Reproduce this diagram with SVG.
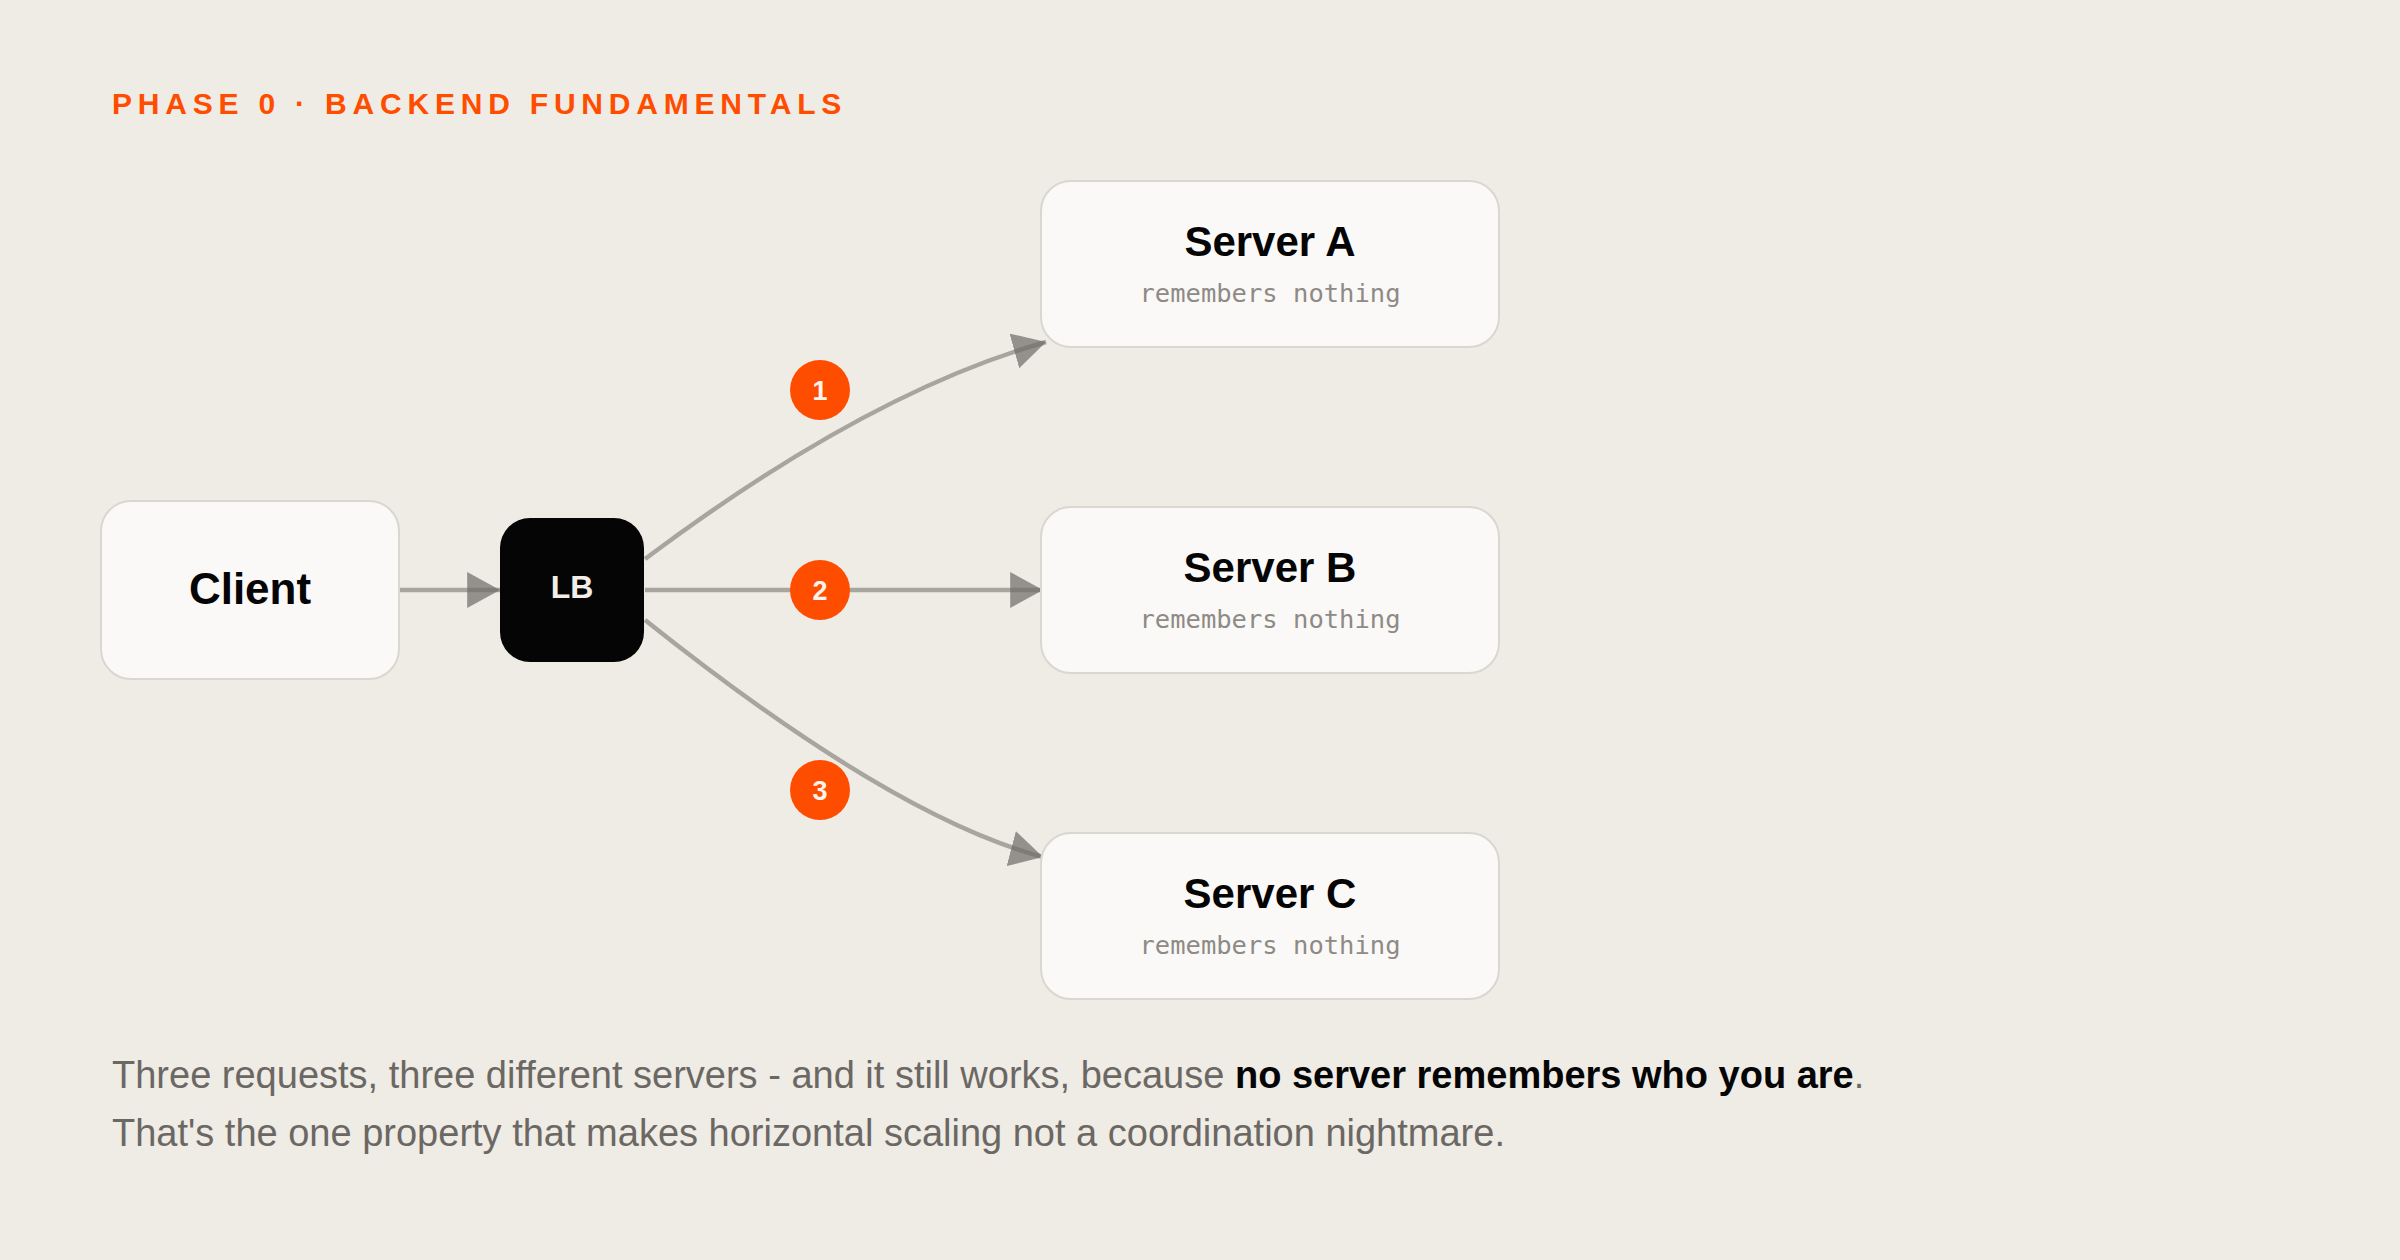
<svg xmlns="http://www.w3.org/2000/svg" width="2400" height="1260" viewBox="0 0 2400 1260">
  <style>
    .box { fill: #faf9f7; stroke: #dad6d0; stroke-width: 2; }
    .title { font-family: "Liberation Sans", Arial, sans-serif; font-weight: bold; fill: #050505; text-anchor: middle; }
    .sub { font-family: "DejaVu Sans Mono", monospace; font-size: 25.5px; fill: #8e8a85; text-anchor: middle; }
    .edge { fill: none; stroke: #a8a59f; stroke-width: 4.5; }
    .badge { fill: #ff4d00; }
    .badgetext { font-family: "Liberation Sans", Arial, sans-serif; font-weight: bold; font-size: 27px; fill: #fbf4ee; text-anchor: middle; }
    .body { font-family: "Liberation Sans", Arial, sans-serif; font-size: 38px; fill: #6b6864; }
  </style>
  <defs>
    <marker id="arrow" markerUnits="userSpaceOnUse" markerWidth="34" markerHeight="36" viewBox="0 0 32 34" refX="31" refY="17" orient="auto">
      <path d="M0,0 L31,17 L0,34 Z" fill="#6e6b67" fill-opacity="0.7"/>
    </marker>
  </defs>
  <rect width="2400" height="1260" fill="#efebe5"/>

  <text x="112" y="114" font-family="Liberation Sans, Arial, sans-serif" font-weight="bold" font-size="30" letter-spacing="5.8" fill="#ff4d00">PHASE 0 · BACKEND FUNDAMENTALS</text>

  <g id="connectors">
    <path class="edge" d="M399,590 L500,590" marker-end="url(#arrow)"/>
    <path class="edge" d="M645,559 Q868,392 1046,342" marker-end="url(#arrow)"/>
    <path class="edge" d="M645,590 L1043,590" marker-end="url(#arrow)"/>
    <path class="edge" d="M645,620 Q892,817 1043,857" marker-end="url(#arrow)"/>
  </g>

  <g id="client">
    <rect class="box" x="101" y="501" width="298" height="178" rx="30"/>
    <text class="title" x="250" y="604" font-size="44">Client</text>
  </g>

  <g id="lb">
    <rect x="500" y="518" width="144" height="144" rx="30" fill="#050505"/>
    <text x="572" y="598" font-family="Liberation Sans, Arial, sans-serif" font-weight="bold" font-size="32" fill="#f3eee8" text-anchor="middle">LB</text>
  </g>

  <g id="server-a">
    <rect class="box" x="1041" y="181" width="458" height="166" rx="30"/>
    <text class="title" x="1270" y="256" font-size="42">Server A</text>
    <text class="sub" x="1270" y="302">remembers nothing</text>
  </g>

  <g id="server-b">
    <rect class="box" x="1041" y="507" width="458" height="166" rx="30"/>
    <text class="title" x="1270" y="582" font-size="42">Server B</text>
    <text class="sub" x="1270" y="628">remembers nothing</text>
  </g>

  <g id="server-c">
    <rect class="box" x="1041" y="833" width="458" height="166" rx="30"/>
    <text class="title" x="1270" y="908" font-size="42">Server C</text>
    <text class="sub" x="1270" y="954">remembers nothing</text>
  </g>

  <g id="badge-1">
    <circle class="badge" cx="820" cy="390" r="30"/>
    <text class="badgetext" x="820" y="399.5">1</text>
  </g>
  <g id="badge-2">
    <circle class="badge" cx="820" cy="590" r="30"/>
    <text class="badgetext" x="820" y="599.5">2</text>
  </g>
  <g id="badge-3">
    <circle class="badge" cx="820" cy="790" r="30"/>
    <text class="badgetext" x="820" y="799.5">3</text>
  </g>

  <text class="body" x="112" y="1088">Three requests, three different servers - and it still works, because <tspan font-weight="bold" fill="#050505">no server remembers who you are</tspan>.</text>
  <text class="body" x="112" y="1146">That's the one property that makes horizontal scaling not a coordination nightmare.</text>
</svg>
